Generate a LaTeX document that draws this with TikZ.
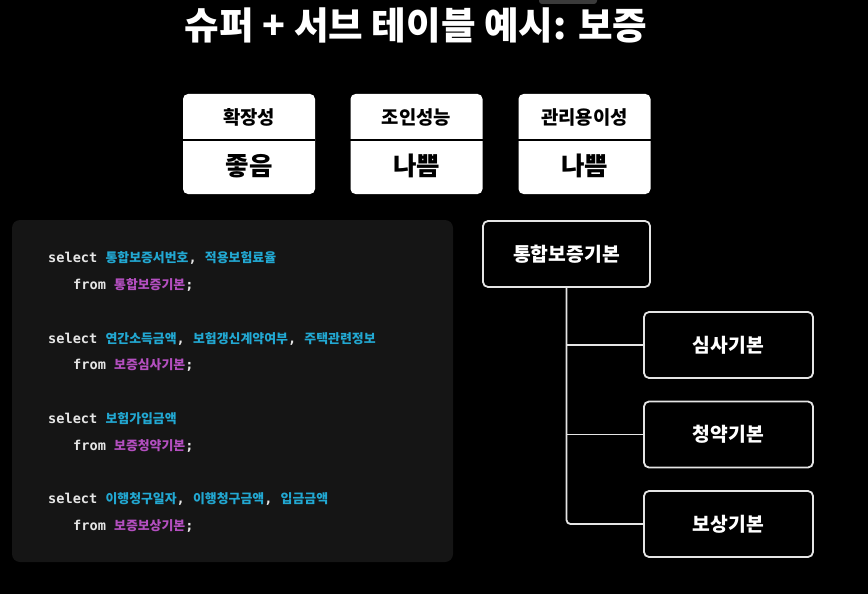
\documentclass[tikz,border=0pt]{standalone}
\usepackage{fontspec}
\newfontfamily\cjk{Noto Sans CJK KR}
\newfontfamily\mono{DejaVu Sans Mono}
\definecolor{panel}{HTML}{151515}
\definecolor{kw}{HTML}{E6E6E6}
\definecolor{colc}{HTML}{22A8D2}
\definecolor{tabc}{HTML}{B44FC0}
\definecolor{barc}{HTML}{3A3A3A}
\newcommand{\kc}[1]{{\cjk\bfseries\fontsize{12.9}{15}\selectfont\color{colc}#1}}
\newcommand{\kt}[1]{{\cjk\bfseries\fontsize{12.9}{15}\selectfont\color{tabc}#1}}
\tikzset{
  topbox/.style={fill=white, rounded corners=5pt, minimum width=132pt, minimum height=100pt, inner sep=0pt},
  tophead/.style={font=\cjk\bfseries\fontsize{18.8}{21}\selectfont, text=black},
  topval/.style={font=\cjk\bfseries\fontsize{25.5}{28}\selectfont, text=black},
  divline/.style={black, line width=2pt},
  code/.style={anchor=base west, inner sep=0pt, text=kw, font=\mono\bfseries\fontsize{13.6}{16}\selectfont},
  tbl/.style={draw=white!90!black, line width=1.8pt, rounded corners=5pt, fill=black, text=white,
    font=\cjk\bfseries\fontsize{19.3}{22}\selectfont, inner sep=0pt},
  conn/.style={draw=white!90!black, line width=1.8pt},
}
\begin{document}
\begin{tikzpicture}[x=1pt, y=-1pt]
\fill[black] (0,0) rectangle (868,594);
\useasboundingbox (0,0) rectangle (868,594);
\fill[barc, rounded corners=3pt] (539,-6) rectangle (597,4);
\node[font=\cjk\bfseries\fontsize{37.6}{42}\selectfont, text=white] (title) at (416,25) {슈퍼 + 서브 테이블 예시: 보증};

% top property boxes
\node[topbox] (b1) at (249,144) {};
\node[topbox] (b2) at (416.5,144) {};
\node[topbox] (b3) at (584.5,144) {};
\draw[divline] ([yshift=4pt]b1.west) -- ([yshift=4pt]b1.east);
\draw[divline] ([yshift=4pt]b2.west) -- ([yshift=4pt]b2.east);
\draw[divline] ([yshift=4pt]b3.west) -- ([yshift=4pt]b3.east);
\node[tophead] (h1) at (249,117) {확장성};
\node[tophead] (h2) at (416.5,117) {조인성능};
\node[tophead] (h3) at (584.5,117) {관리용이성};
\node[topval] (v1) at (249,166) {좋음};
\node[topval] (v2) at (416.5,166) {나쁨};
\node[topval] (v3) at (584.5,166) {나쁨};

% code panel
\fill[panel, rounded corners=8pt] (12,220) rectangle (453,562);
\node[code] (s1) at (48,262.5) {select \kc{통합보증서번호}, \kc{적용보험료율}};
\node[code] (f1) at (73,289.5) {from \kt{통합보증기본};};
\node[code] (s2) at (48,343.5) {select \kc{연간소득금액}, \kc{보험갱신계약여부}, \kc{주택관련정보}};
\node[code] (f2) at (73,369.5) {from \kt{보증심사기본};};
\node[code] (s3) at (48,423.5) {select \kc{보험가입금액}};
\node[code] (f3) at (73,450.5) {from \kt{보증청약기본};};
\node[code] (s4) at (48,503.5) {select \kc{이행청구일자}, \kc{이행청구금액}, \kc{입금금액}};
\node[code] (f4) at (73,530.5) {from \kt{보증보상기본};};

% table hierarchy
\node[tbl, minimum width=167pt, minimum height=66pt] (root) at (566.5,254) {통합보증기본};
\node[tbl, minimum width=169pt, minimum height=66pt] (c1) at (728.5,345) {심사기본};
\node[tbl, minimum width=169pt, minimum height=66pt] (c2) at (728.5,434.5) {청약기본};
\node[tbl, minimum width=169pt, minimum height=66pt] (c3) at (728.5,524) {보상기본};
\draw[conn, rounded corners=4pt] (root.south) |- (c3.west);
\draw[conn] (root.south |- c1.west) -- (c1.west);
\draw[conn] (root.south |- c2.west) -- (c2.west);
\end{tikzpicture}
\end{document}
